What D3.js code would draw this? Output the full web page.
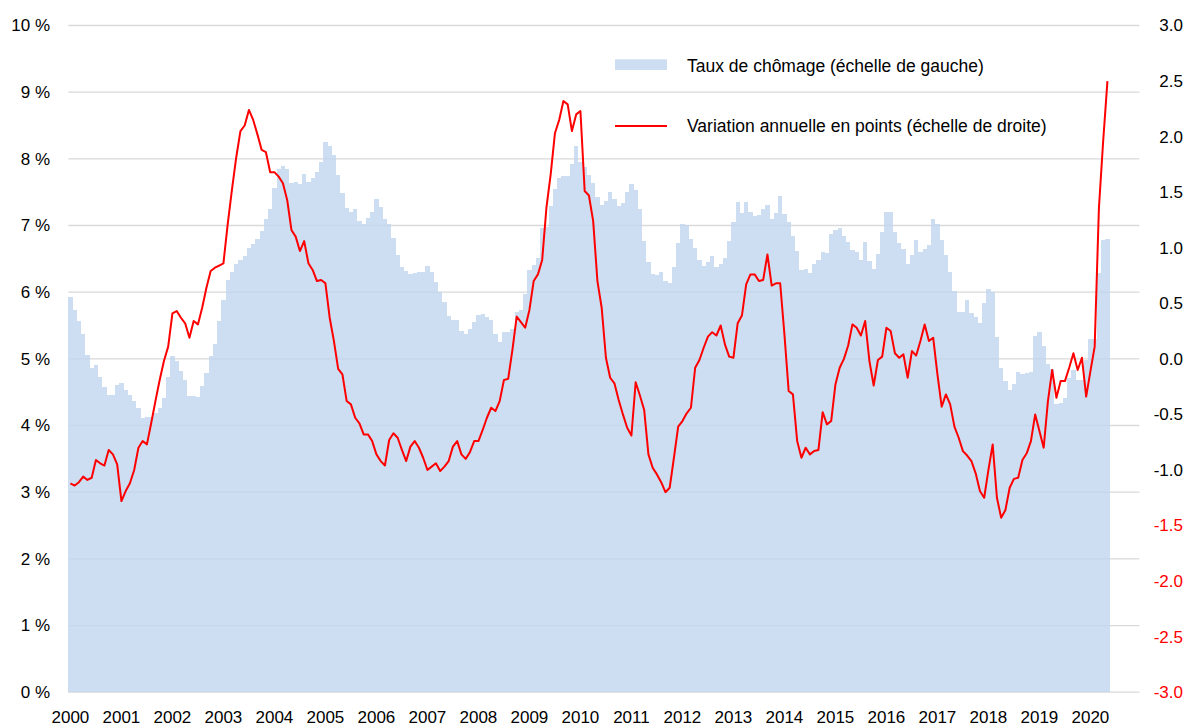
<!DOCTYPE html>
<html>
<head>
<meta charset="utf-8">
<script src="https://cdn.jsdelivr.net/npm/d3@7"></script>
<style>
  body { margin: 0; background: #fff; }
  svg text { font-family: "Liberation Sans", Arial, sans-serif; fill: #000; }
</style>
</head>
<body>
<svg id="chart" width="1192" height="726"></svg>
<script>
// Years shown on the horizontal axis (monthly categories, Jan 2000 – Dec 2020)
const years = d3.range(2000, 2021);

// Left axis ticks (%), right axis ticks (points)
const leftTicks = d3.range(0, 11);
const rightTicks = [-3, -2.5, -2, -1.5, -1, -0.5, 0, 0.5, 1, 1.5, 2, 2.5, 3];

// Monthly unemployment rate, %, Jan 2000 – May 2020
const unemployment = [
  5.93, 5.73, 5.57, 5.37, 5.06, 4.86, 4.91, 4.73, 4.58, 4.46, 4.46, 4.61,
  4.64, 4.54, 4.46, 4.37, 4.26, 4.11, 4.13, 4.13, 4.19, 4.26, 4.42, 4.73,
  5.05, 4.97, 4.82, 4.68, 4.44, 4.45, 4.43, 4.59, 4.79, 5.05, 5.23, 5.57,
  5.89, 6.19, 6.30, 6.43, 6.48, 6.55, 6.66, 6.73, 6.80, 6.92, 7.10, 7.25,
  7.57, 7.85, 7.90, 7.85, 7.64, 7.65, 7.62, 7.78, 7.65, 7.71, 7.80, 7.95,
  8.25, 8.20, 8.06, 7.76, 7.49, 7.27, 7.21, 7.25, 7.07, 7.03, 7.11, 7.20,
  7.40, 7.28, 7.10, 7.03, 6.81, 6.56, 6.38, 6.32, 6.28, 6.29, 6.30, 6.30,
  6.39, 6.30, 6.16, 6.00, 5.85, 5.65, 5.59, 5.58, 5.42, 5.37, 5.45, 5.56,
  5.66, 5.68, 5.63, 5.58, 5.38, 5.26, 5.40, 5.40, 5.45, 5.71, 5.73, 5.97,
  6.34, 6.41, 6.52, 6.96, 6.98, 7.29, 7.55, 7.71, 7.75, 7.75, 7.92, 8.20,
  7.95, 7.88, 7.76, 7.64, 7.43, 7.31, 7.37, 7.50, 7.40, 7.29, 7.34, 7.51,
  7.63, 7.53, 7.25, 6.77, 6.45, 6.28, 6.26, 6.30, 6.17, 6.14, 6.38, 6.74,
  7.03, 7.01, 6.80, 6.67, 6.49, 6.39, 6.45, 6.54, 6.38, 6.43, 6.51, 6.77,
  7.06, 7.35, 7.19, 7.35, 7.21, 7.15, 7.16, 7.25, 7.31, 7.10, 7.19, 7.45,
  7.17, 7.06, 6.85, 6.62, 6.33, 6.35, 6.29, 6.42, 6.49, 6.60, 6.59, 6.88,
  6.94, 6.96, 6.85, 6.75, 6.63, 6.61, 6.49, 6.75, 6.47, 6.35, 6.57, 6.90,
  7.21, 7.21, 6.90, 6.74, 6.65, 6.43, 6.56, 6.78, 6.60, 6.65, 6.71, 7.10,
  7.03, 6.78, 6.56, 6.31, 6.02, 5.71, 5.71, 5.89, 5.69, 5.63, 5.54, 5.84,
  6.05, 6.00, 5.33, 4.87, 4.67, 4.54, 4.62, 4.81, 4.78, 4.79, 4.80, 5.34,
  5.40, 5.19, 4.92, 4.85, 4.32, 4.34, 4.41, 4.71, 4.83, 4.68, 4.69, 4.99,
  5.30, 5.30, 6.29, 6.78, 6.80
];

// Year-on-year change of the rate, in percentage points
const annualChange = [
  -1.12, -1.14, -1.11, -1.06, -1.09, -1.07, -0.91, -0.94, -0.96, -0.82, -0.86, -0.95,
  -1.28, -1.19, -1.12, -1.00, -0.80, -0.74, -0.77, -0.58, -0.38, -0.19, -0.02, 0.11,
  0.41, 0.43, 0.37, 0.32, 0.19, 0.34, 0.31, 0.46, 0.64, 0.79, 0.82, 0.84,
  0.86, 1.21, 1.52, 1.81, 2.05, 2.10, 2.24, 2.15, 2.02, 1.88, 1.86, 1.68,
  1.68, 1.64, 1.58, 1.43, 1.16, 1.10, 0.97, 1.06, 0.86, 0.80, 0.70, 0.71,
  0.68, 0.37, 0.16, -0.09, -0.14, -0.38, -0.41, -0.53, -0.58, -0.68, -0.68, -0.74,
  -0.86, -0.92, -0.96, -0.73, -0.67, -0.71, -0.82, -0.92, -0.79, -0.74, -0.80, -0.89,
  -1.00, -0.97, -0.94, -1.01, -0.97, -0.92, -0.79, -0.74, -0.86, -0.90, -0.84, -0.74,
  -0.74, -0.64, -0.53, -0.44, -0.47, -0.38, -0.19, -0.18, 0.08, 0.38, 0.33, 0.28,
  0.44, 0.70, 0.76, 0.89, 1.36, 1.66, 2.03, 2.15, 2.32, 2.29, 2.05, 2.20,
  2.23, 1.51, 1.47, 1.24, 0.70, 0.46, 0.01, -0.17, -0.22, -0.37, -0.50, -0.62,
  -0.69, -0.21, -0.33, -0.46, -0.86, -0.98, -1.04, -1.11, -1.20, -1.16, -0.89, -0.61,
  -0.56, -0.49, -0.44, -0.08, -0.01, 0.10, 0.20, 0.24, 0.21, 0.30, 0.13, 0.02,
  0.01, 0.32, 0.39, 0.67, 0.76, 0.76, 0.70, 0.71, 0.94, 0.66, 0.68, 0.68,
  0.22, -0.29, -0.32, -0.74, -0.89, -0.80, -0.86, -0.83, -0.82, -0.48, -0.59, -0.56,
  -0.23, -0.08, 0.00, 0.12, 0.31, 0.28, 0.21, 0.34, -0.02, -0.24, -0.01, 0.02,
  0.28, 0.25, 0.05, 0.01, 0.04, -0.17, 0.07, 0.03, 0.16, 0.31, 0.16, 0.19,
  -0.14, -0.43, -0.32, -0.41, -0.61, -0.71, -0.83, -0.87, -0.92, -1.03, -1.19, -1.25,
  -1.00, -0.77, -1.25, -1.43, -1.36, -1.16, -1.08, -1.07, -0.91, -0.85, -0.74, -0.50,
  -0.65, -0.80, -0.38, -0.10, -0.35, -0.20, -0.20, -0.08, 0.05, -0.10, 0.01, -0.34,
  -0.11, 0.11, 1.36, 1.96, 2.50
];

const seriesNames = [
  "Taux de chômage (échelle de gauche)",
  "Variation annuelle en points (échelle de droite)"
];

const barColor = "rgb(194,214,239)";
const lineColor = "#ff0000";
const gridColor = "#d9d9d9";

const plot = { left: 68.3, right: 1139.3, top: 25.5, bottom: 692.2 };
const nMonths = years.length * 12;

const svg = d3.select("#chart");

const x = d3.scaleBand()
  .domain(d3.range(nMonths))
  .range([plot.left, plot.right])
  .padding(0);
const yLeft = d3.scaleLinear().domain([0, 10]).range([plot.bottom, plot.top]);
const yRight = d3.scaleLinear().domain([-3, 3]).range([plot.bottom, plot.top]);

// Horizontal gridlines on the left scale
svg.append("g")
  .selectAll("line")
  .data(leftTicks)
  .join("line")
  .attr("x1", plot.left)
  .attr("x2", plot.right)
  .attr("y1", d => yLeft(d))
  .attr("y2", d => yLeft(d))
  .attr("stroke", gridColor)
  .attr("stroke-width", 1.3);

// Monthly bars
svg.append("g")
  .selectAll("rect")
  .data(unemployment)
  .join("rect")
  .attr("x", (d, i) => x(i))
  .attr("width", x.bandwidth() + 0.05)
  .attr("y", d => yLeft(d))
  .attr("height", d => yLeft(0) - yLeft(d))
  .attr("fill", barColor)
  .attr("fill-opacity", 0.8)
  .attr("shape-rendering", "crispEdges");

// Annual change line
const line = d3.line()
  .x((d, i) => x(i) + x.bandwidth() / 2)
  .y(d => yRight(d));

svg.append("path")
  .datum(annualChange)
  .attr("d", line)
  .attr("fill", "none")
  .attr("stroke", lineColor)
  .attr("stroke-width", 2)
  .attr("stroke-linejoin", "round");

// Left axis labels
svg.append("g")
  .selectAll("text")
  .data(leftTicks)
  .join("text")
  .attr("x", 50)
  .attr("y", d => yLeft(d))
  .attr("dy", "0.35em")
  .attr("text-anchor", "end")
  .style("font-size", "17px")
  .text(d => d + " %");

// Right axis labels
svg.append("g")
  .selectAll("text")
  .data(rightTicks)
  .join("text")
  .attr("x", 1183)
  .attr("y", d => yRight(d))
  .attr("dy", "0.35em")
  .attr("text-anchor", "end")
  .style("font-size", "17px")
  .style("fill", d => d < -1.25 ? lineColor : "#000")
  .text(d => d3.format(".1f")(d).replace("−", "-"));

// Year labels under the January of each year
svg.append("g")
  .selectAll("text")
  .data(years)
  .join("text")
  .attr("x", d => x((d - years[0]) * 12) + x.bandwidth() / 2)
  .attr("y", 717)
  .attr("dy", "0.35em")
  .attr("text-anchor", "middle")
  .style("font-size", "17px")
  .text(d => d);

// Legend
const legend = svg.append("g");
legend.append("rect")
  .attr("x", 615).attr("y", 59.3)
  .attr("width", 52).attr("height", 10.7)
  .attr("fill", barColor).attr("fill-opacity", 0.8);
legend.append("text")
  .attr("x", 687).attr("y", 65.5).attr("dy", "0.35em")
  .style("font-size", "17.5px")
  .text(seriesNames[0]);
legend.append("line")
  .attr("x1", 615).attr("x2", 667)
  .attr("y1", 126).attr("y2", 126)
  .attr("stroke", lineColor).attr("stroke-width", 2);
legend.append("text")
  .attr("x", 687).attr("y", 126).attr("dy", "0.35em")
  .style("font-size", "17.5px")
  .text(seriesNames[1]);
</script>
</body>
</html>
